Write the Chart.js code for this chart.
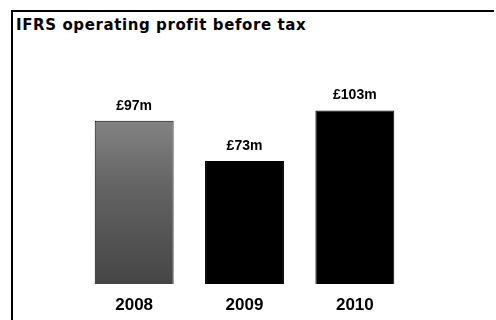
<!DOCTYPE html>
<html>
<head>
<meta charset="utf-8">
<script src="https://cdn.jsdelivr.net/npm/chart.js@4"></script>
<style>
    html, body { margin: 0; padding: 0; background: #fff; }
    #wrap { position: relative; width: 496px; height: 320px; overflow: hidden; }
    #frame {
        position: absolute; left: 11px; top: 10px; width: 481px; height: 320px;
        border-top: 2px solid #000; border-left: 2px solid #000;
    }
    #title {
        position: absolute; left: 16px; top: 16px;
        font-family: 'DejaVu Sans', sans-serif; font-weight: bold; font-size: 15px;
        letter-spacing: 0.6px; color: #000; white-space: nowrap;
    }
    #chartBox { position: absolute; left: 0; top: 0; width: 496px; height: 320px; }
</style>
</head>
<body>
<div id="wrap">
    <div id="frame"></div>
    <div id="title">IFRS operating profit before tax</div>
    <div id="chartBox"><canvas id="profitChart" width="496" height="320"></canvas></div>
</div>
<script>
// Datos del grafico
const years = ['2008', '2009', '2010'];
const profit = [97, 73, 103];
const profitLabels = ['£97m', '£73m', '£103m'];

// Etiquetas de valor encima de cada barra
const valueLabelPlugin = {
    id: 'valueLabels',
    afterDatasetsDraw(chart) {
        const ctx = chart.ctx;
        const meta = chart.getDatasetMeta(0);
        ctx.save();
        ctx.font = 'bold 14px "Liberation Sans", Arial, sans-serif';
        ctx.fillStyle = '#000';
        ctx.textAlign = 'center';
        ctx.textBaseline = 'middle';
        meta.data.forEach((bar, i) => {
            ctx.fillText(profitLabels[i], bar.x, bar.y - 15);
        });
        ctx.restore();
    }
};

function firstBarFill(chart) {
    const area = chart.chartArea;
    if (!area) return '#777';
    const g = chart.ctx.createLinearGradient(0, area.top, 0, area.bottom);
    g.addColorStop(0, '#959595');
    g.addColorStop(0.5, '#656565');
    g.addColorStop(1, '#454545');
    return g;
}

document.addEventListener('DOMContentLoaded', function() {
    const ctx = document.getElementById('profitChart').getContext('2d');

    new Chart(ctx, {
        type: 'bar',
        data: {
            labels: years,
            datasets: [{
                data: profit,
                backgroundColor: function(context) {
                    return context.dataIndex === 0 ? firstBarFill(context.chart) : '#000';
                },
                borderColor: '#000',
                borderWidth: 1,
                categoryPercentage: 1,
                barPercentage: 0.715
            }]
        },
        options: {
            responsive: false,
            animation: false,
            layout: {
                padding: { left: 79, right: 86, top: 82, bottom: 0 }
            },
            plugins: {
                legend: { display: false },
                title: { display: false },
                tooltip: { enabled: false }
            },
            scales: {
                y: {
                    display: false,
                    min: 0,
                    max: 120
                },
                x: {
                    grid: { display: false },
                    border: { display: false },
                    ticks: {
                        color: '#000',
                        padding: 3,
                        font: { family: '"Liberation Sans", Arial, sans-serif', size: 17, weight: 'bold' }
                    },
                    afterFit: function(scale) {
                        scale.height = 36;
                    }
                }
            }
        },
        plugins: [valueLabelPlugin]
    });
});
</script>
</body>
</html>
